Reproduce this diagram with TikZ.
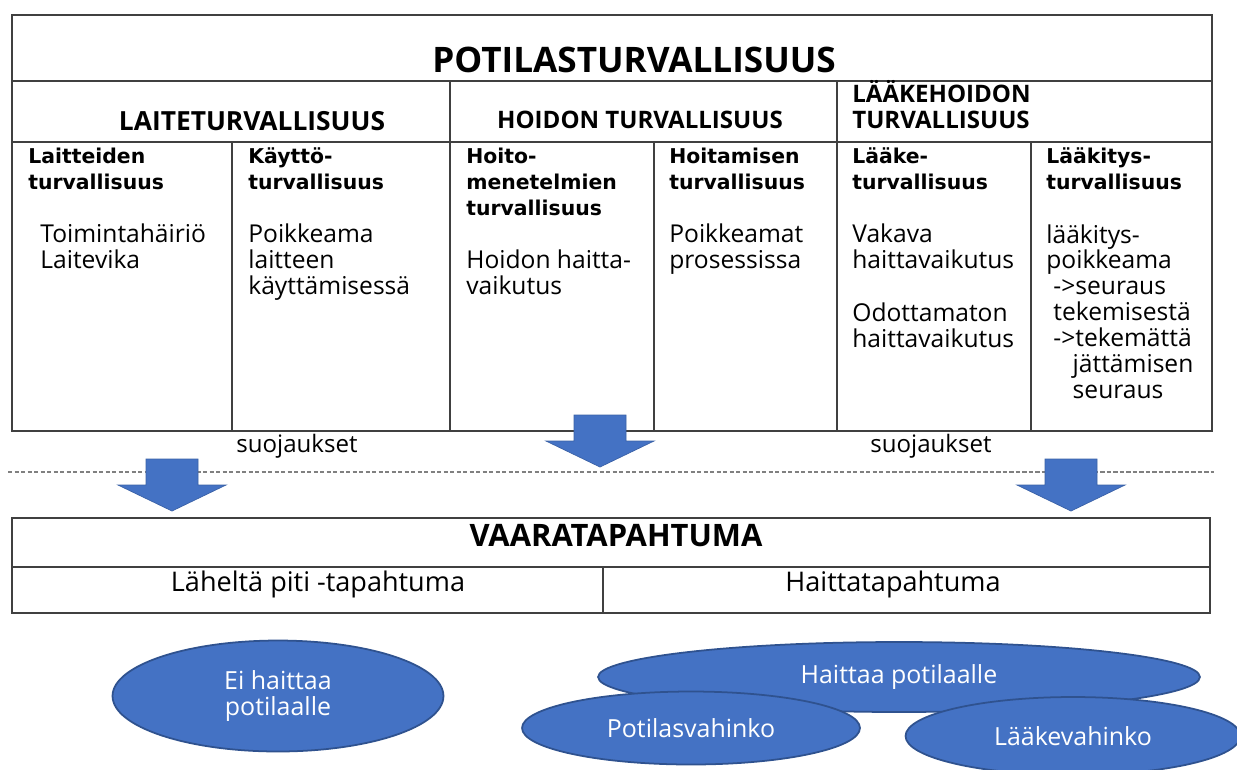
\documentclass[tikz,border=0pt]{standalone}
\usepackage{xcolor}
\usepackage{tikz}
\usepackage{fontspec}
\setmainfont{Open Sans}
\newfontfamily\headfont{DejaVu Sans}
\definecolor{boxblue}{HTML}{4472C4}
\definecolor{rimblue}{HTML}{2F528F}
\definecolor{gridgray}{HTML}{404040}
\usetikzlibrary{shapes.geometric, positioning}

\begin{document}
\begin{tikzpicture}[
    x=0.02cm, y=-0.02cm,
    grid/.style={draw=gridgray, line width=0.9pt},
    title/.style={anchor=base, inner sep=0pt, font=\bfseries\fontsize{20}{24}\selectfont},
    sect/.style={inner sep=0pt, align=left, font=\bfseries\fontsize{13.7}{14.7}\selectfont},
    colhead/.style={anchor=base west, inner sep=0pt, align=left, font=\headfont\bfseries\fontsize{11.6}{14.7}\selectfont},
    item/.style={anchor=base west, inner sep=0pt, align=left, font=\fontsize{14}{14.7}\selectfont},
    shield/.style={anchor=base, inner sep=0pt, font=\fontsize{13.7}{16}\selectfont},
    event/.style={anchor=base, inner sep=0pt, font=\fontsize{15.4}{18}\selectfont},
    blockarrow/.style={fill=boxblue, draw=boxblue!85!black, line width=0.4pt},
    blob/.style={ellipse, fill=boxblue, draw=rimblue, line width=1pt, inner sep=0pt, text=white, align=center, font=\fontsize{14.2}{15.3}\selectfont}
]
    \useasboundingbox (0,0) rectangle (1237,769);
    \clip (0,0) rectangle (1237,769);
    \fill[white] (0,0) rectangle (1237,769);

    % upper table
    \draw[grid] (12,15) rectangle (1212,431);
    \draw[grid] (12,81) -- (1212,81);
    \draw[grid] (12,142) -- (1212,142);
    \draw[grid] (450,81) -- (450,431);
    \draw[grid] (837,81) -- (837,431);
    \foreach \cx in {232, 654, 1031}
        \draw[grid] (\cx,142) -- (\cx,431);

    \node[title] (potila) at (634,72) {POTILASTURVALLISUUS};

    % base anchor = baseline of last line
    \node[sect, anchor=base, font=\bfseries\fontsize{15}{16}\selectfont] (laite) at (252,130) {LAITETURVALLISUUS};
    \node[sect, anchor=base] (hoito) at (640,128) {HOIDON TURVALLISUUS};
    \node[sect, anchor=base west] (laake) at (852,128) {LÄÄKEHOIDON\\TURVALLISUUS};

    \node[colhead] (laitteet) at (28,189) {Laitteiden\\turvallisuus};
    \node[colhead] (kaytto) at (248,189) {Käyttö-\\turvallisuus};
    \node[colhead] (menetelma) at (466,215) {Hoito-\\menetelmien\\turvallisuus};
    \node[colhead] (hoitaminen) at (669,189) {Hoitamisen\\turvallisuus};
    \node[colhead] (laakeh) at (852,189) {Lääke-\\turvallisuus};
    \node[colhead] (laakitys) at (1046,189) {Lääkitys-\\turvallisuus};

    \node[item] (vika) at (40,268) {Toimintahäiriö\\Laitevika};
    \node[item] (poikkeama) at (248,294) {Poikkeama\\laitteen\\käyttämisessä};
    \node[item] (haittav) at (466,294) {Hoidon haitta-\\vaikutus};
    \node[item] (prosessi) at (669,268) {Poikkeamat\\prosessissa};
    \node[item] (vakava) at (852,268) {Vakava\\haittavaikutus};
    \node[item] (odottamaton) at (852,347) {Odottamaton\\haittavaikutus};
    \node[item] (seuraus) at (1046,398) {lääkitys-\\poikkeama\\\hspace*{4pt}->seuraus\\\hspace*{4pt}tekemisestä\\\hspace*{4pt}->tekemättä\\\hspace*{15pt}jättämisen\\\hspace*{15pt}seuraus};

    % safeguards
    \node[shield] (suoja1) at (297,452) {suojaukset};
    \node[shield] (suoja2) at (931,452) {suojaukset};
    \draw[gray, line width=0.6pt, dash pattern=on 2.5pt off 1.2pt] (8,472) -- (1214,472);

    \foreach \ax/\ay in {172/459, 600/415, 1071/459}
        \draw[blockarrow] (\ax-26,\ay) -- (\ax+26,\ay) -- (\ax+26,\ay+26) -- (\ax+54,\ay+26)
            -- (\ax,\ay+52) -- (\ax-54,\ay+26) -- (\ax-26,\ay+26) -- cycle;

    % lower table
    \draw[grid] (12,518) rectangle (1210,613);
    \draw[grid] (12,567) -- (1210,567);
    \draw[grid] (603,567) -- (603,613);
    \node[event, font=\bfseries\fontsize{17.6}{20}\selectfont] (vaara) at (616,546) {VAARATAPAHTUMA};
    \node[event] (lahelta) at (318,591) {Läheltä piti -tapahtuma};
    \node[event] (haittatap) at (893,591) {Haittatapahtuma};

    % outcomes
    \node[blob, minimum width=6.62cm, minimum height=2.22cm] (eihaitta) at (278,696) {Ei haittaa\\potilaalle};
    \node[blob, minimum width=12.04cm, minimum height=1.4cm] (haittaa) at (899,677) {Haittaa potilaalle};
    \node[blob, minimum width=6.76cm, minimum height=1.46cm] (potilasv) at (691,728) {Potilasvahinko};
    \node[blob, minimum width=6.7cm, minimum height=1.56cm] (laakev) at (1073,736) {Lääkevahinko};
\end{tikzpicture}
\end{document}
